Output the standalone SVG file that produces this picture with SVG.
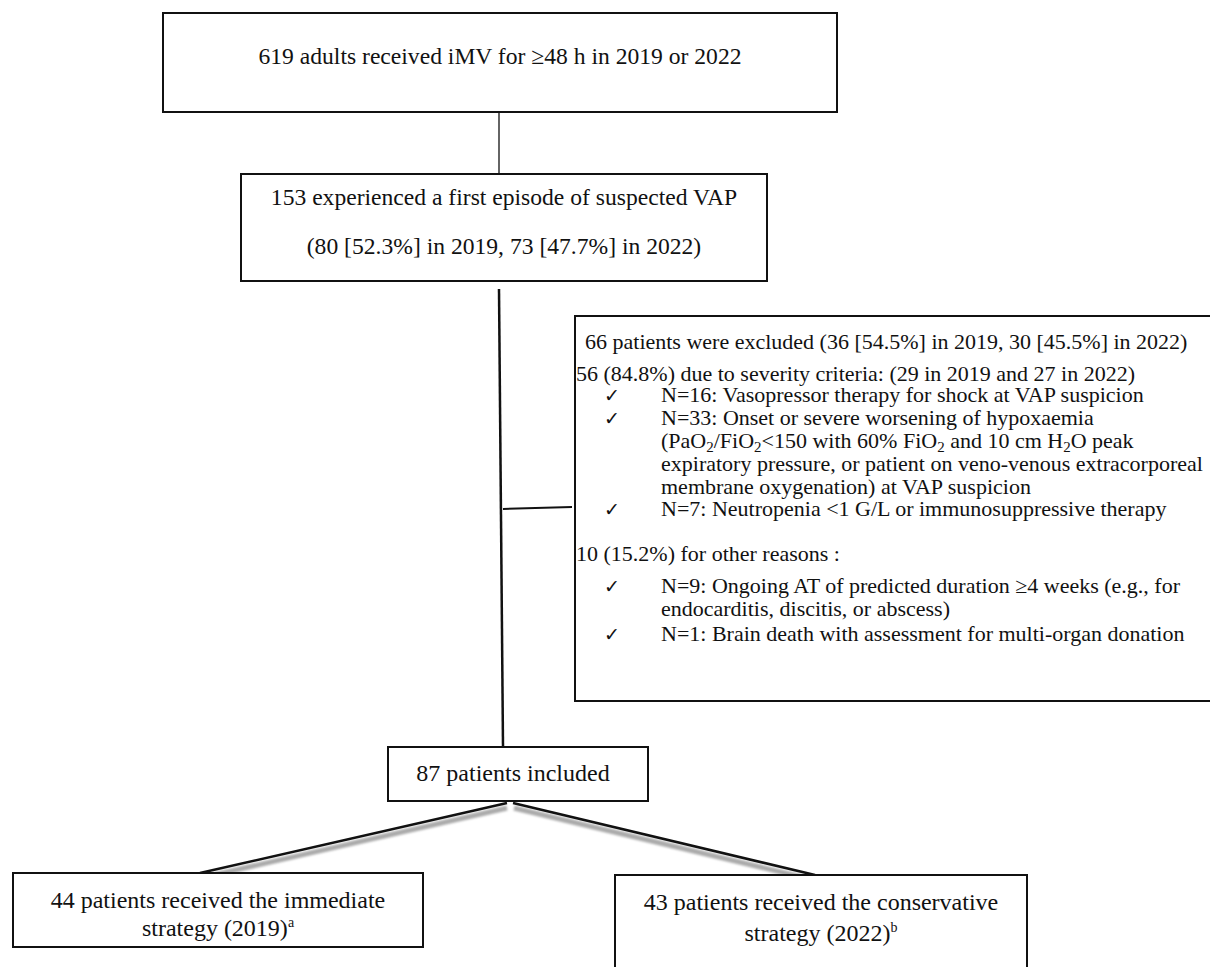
<svg xmlns="http://www.w3.org/2000/svg" width="1210" height="967" viewBox="0 0 1210 967">
<style>
text{font-family:"Liberation Serif","Times New Roman",serif;fill:#111}
.box{fill:#fff;stroke:#111;stroke-width:2}
.t23{font-size:23.6px}
.t22{font-size:22px}
.t24{font-size:24px}
.chk{font-family:"DejaVu Sans",sans-serif;font-size:19px}
.ln{stroke:#111;fill:none}
.sh{stroke:#aaa;fill:none;stroke-width:5;filter:url(#blur)}
</style>
<defs>
<filter id="blur" x="-10%" y="-50%" width="120%" height="200%"><feGaussianBlur stdDeviation="1.3"/></filter>
</defs>
<rect width="1210" height="967" fill="#fff"/>
<g id="connectors">
<line class="ln" x1="499" y1="112" x2="499" y2="182" stroke-width="1.3"/>
<line class="ln" x1="499" y1="289" x2="503" y2="746" stroke-width="2.5"/>
<line class="ln" x1="503" y1="509" x2="572" y2="507" stroke-width="2"/>
<line class="sh" x1="507" y1="808" x2="205" y2="877"/>
<line class="sh" x1="514" y1="808" x2="810" y2="879"/>
<line class="ln" x1="507" y1="803" x2="200" y2="873" stroke-width="2.5"/>
<line class="ln" x1="513" y1="803" x2="815" y2="875" stroke-width="2.5"/>
</g>
<g id="n_start">
<rect class="box" x="163" y="13" width="674" height="99"/>
<text class="t23" x="500" y="64" text-anchor="middle">619 adults received iMV for ≥48 h in 2019 or 2022</text>
</g>
<g id="n_vap">
<rect class="box" x="241" y="174" width="526" height="107"/>
<text class="t23" x="504" y="205" text-anchor="middle">153 experienced a first episode of suspected VAP</text>
<text class="t23" x="504" y="254" text-anchor="middle">(80 [52.3%] in 2019, 73 [47.7%] in 2022)</text>
</g>
<g id="n_excluded">
<rect class="box" x="575" y="316" width="640" height="385"/>
<text class="t22" x="585" y="349" font-size="22.3">66 patients were excluded (36 [54.5%] in 2019, 30 [45.5%] in 2022)</text>
<text class="t22" x="576" y="381">56 (84.8%) due to severity criteria: (29 in 2019 and 27 in 2022)</text>
<text class="chk" x="604" y="402">✓</text>
<text class="t22" x="661" y="402">N=16: Vasopressor therapy for shock at VAP suspicion</text>
<text class="chk" x="604" y="425">✓</text>
<text class="t22" x="661" y="425">N=33: Onset or severe worsening of hypoxaemia</text>
<text class="t22" x="661" y="448">(PaO<tspan font-size="15" dy="4">2</tspan><tspan dy="-4">/FiO</tspan><tspan font-size="15" dy="4">2</tspan><tspan dy="-4">&lt;150 with 60% FiO</tspan><tspan font-size="15" dy="4">2</tspan><tspan dy="-4"> and 10 cm H</tspan><tspan font-size="15" dy="4">2</tspan><tspan dy="-4">O peak</tspan></text>
<text class="t22" x="661" y="471">expiratory pressure, or patient on veno-venous extracorporeal</text>
<text class="t22" x="661" y="494">membrane oxygenation) at VAP suspicion</text>
<text class="chk" x="604" y="516">✓</text>
<text class="t22" x="661" y="516">N=7: Neutropenia &lt;1 G/L or immunosuppressive therapy</text>
<text class="t22" x="576" y="561">10 (15.2%) for other reasons :</text>
<text class="chk" x="604" y="593">✓</text>
<text class="t22" x="661" y="593">N=9: Ongoing AT of predicted duration ≥4 weeks (e.g., for</text>
<text class="t22" x="661" y="616">endocarditis, discitis, or abscess)</text>
<text class="chk" x="604" y="641">✓</text>
<text class="t22" x="661" y="641">N=1: Brain death with assessment for multi-organ donation</text>
</g>
<g id="n_included">
<rect class="box" x="388" y="747" width="260" height="54"/>
<text class="t24" x="513" y="781" text-anchor="middle">87 patients included</text>
</g>
<g id="n_immediate">
<rect class="box" x="13" y="873" width="410" height="74"/>
<text class="t24" x="218" y="908" text-anchor="middle">44 patients received the immediate</text>
<text class="t24" x="218" y="936" text-anchor="middle">strategy (2019)<tspan font-size="14" dy="-9">a</tspan></text>
</g>
<g id="n_conservative">
<rect class="box" x="615" y="875" width="412" height="100"/>
<text class="t24" x="821" y="910" text-anchor="middle">43 patients received the conservative</text>
<text class="t24" x="821" y="941" text-anchor="middle">strategy (2022)<tspan font-size="14" dy="-9">b</tspan></text>
</g>
</svg>
